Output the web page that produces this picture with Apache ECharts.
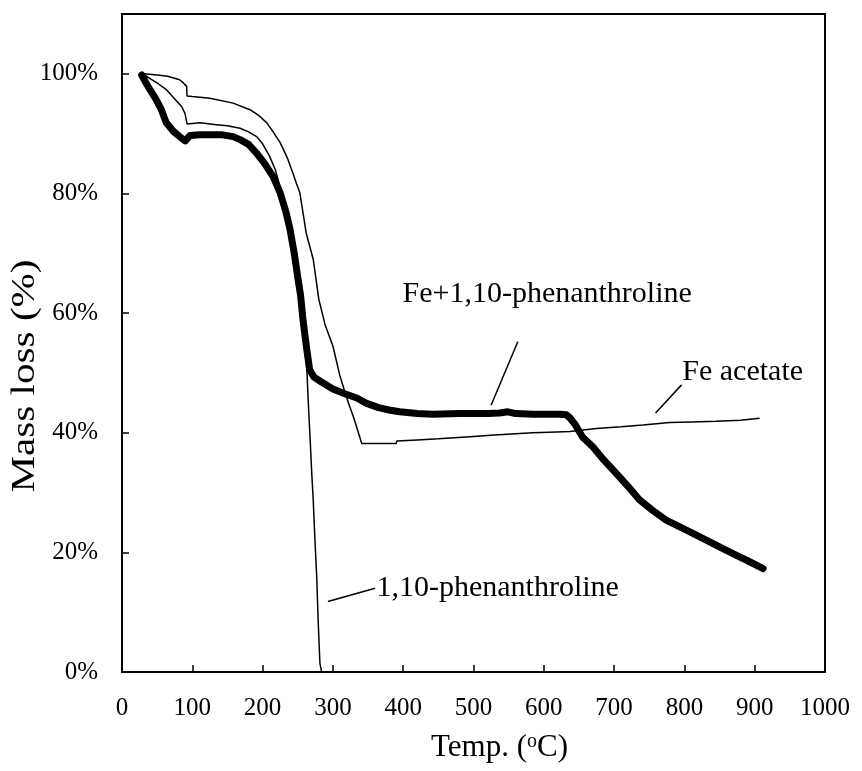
<!DOCTYPE html>
<html>
<head>
<meta charset="utf-8">
<script src="https://cdn.jsdelivr.net/npm/echarts@6/dist/echarts.min.js"></script>
<style>
  html, body { margin: 0; padding: 0; background: #fff; }
  #chart { width: 862px; height: 771px; }
</style>
</head>
<body>
<div id="chart"></div>
<script>
// Thermogravimetric curves: temperature (°C) vs remaining mass (%)
const xTicks = [0, 100, 200, 300, 400, 500, 600, 700, 800, 900, 1000];
const yTicks = [0, 20, 40, 60, 80, 100];

// Fe + 1,10-phenanthroline (thick curve)
const fephenT = [28, 34, 40, 48, 56, 63, 73, 85, 90, 97, 111, 125, 143, 158, 168, 180, 191, 203, 215, 225, 233, 239, 245, 250, 254, 257, 260, 263, 267, 273, 282, 300, 315, 334, 348, 365, 380, 395, 420, 442, 480, 520, 537, 549, 560, 585, 610, 623, 632, 637, 645, 655, 670, 685, 703, 720, 736, 755, 774, 800, 822, 845, 869, 890, 912];
const fephenV = [99.8, 98.5, 97.3, 95.8, 94, 91.8, 90.4, 89.2, 88.8, 89.7, 89.8, 89.8, 89.8, 89.5, 89, 88.2, 86.8, 85, 82.8, 80.1, 77, 74, 70, 66, 63, 59.4, 56.5, 53.8, 50.5, 49.3, 48.6, 47.3, 46.6, 45.8, 44.9, 44.2, 43.8, 43.5, 43.2, 43.1, 43.2, 43.2, 43.3, 43.5, 43.2, 43.1, 43.1, 43.1, 43.0, 42.5, 41.3, 39.3, 37.6, 35.5, 33.2, 31, 28.8, 27, 25.4, 23.9, 22.6, 21.2, 19.8, 18.6, 17.3];

// Fe acetate
const feacT = [31, 50, 65, 82, 88, 92, 92.5, 100, 125, 158, 182, 195, 206, 215, 225, 235, 243, 248, 253, 262, 272, 280, 289, 300, 310, 315, 322, 329, 335, 341, 360, 390, 391, 420, 450, 490, 530, 584, 608, 637, 675, 710, 741, 779, 810, 845, 880, 907];
const feacV = [100, 99.8, 99.6, 99, 98.4, 97.9, 96.3, 96.2, 95.9, 95.1, 94, 93, 91.8, 90.3, 88.5, 86, 83.4, 81.7, 80.1, 73.4, 69, 62.3, 58, 54.5, 49.5, 47.6, 45, 42.7, 40.5, 38.2, 38.2, 38.2, 38.6, 38.8, 39.0, 39.3, 39.6, 40, 40.1, 40.2, 40.7, 41.0, 41.3, 41.7, 41.8, 41.9, 42.1, 42.4];

// 1,10-phenanthroline
const phenT = [30, 40, 52, 63.5, 75, 85, 89.6, 92.6, 100, 111, 134.6, 150, 168, 180, 191.5, 200, 210, 218, 224.6, 232, 240, 246, 252, 257, 261, 263, 265, 268, 270, 272, 274, 277, 279, 281.5, 284];
const phenV = [100, 99.2, 98.3, 97.3, 95.8, 94.5, 93.4, 91.6, 91.7, 91.8, 91.5, 91.3, 90.9, 90.3, 89.5, 88.3, 86.2, 84, 81.2, 78, 74, 70, 64, 58, 53, 50.5, 45, 38, 33, 28.8, 23.2, 15.9, 8.7, 1.5, 0];

// Curve labels: text, temperature, mass; and their leader lines
const labelNames = ['Fe+1,10-phenanthroline', 'Fe acetate', '1,10-phenanthroline'];
const labelT = [399, 797, 362];
const labelV = [63.2, 50.2, 14.0];
const leaderFrom = [[563, 55.2], [796, 48.0], [360, 14.0]];
const leaderTo = [[525, 44.6], [759, 43.3], [293, 11.8]];

const serif = '"Liberation Serif", "Times New Roman", serif';
const zip = (a, b) => a.map((t, i) => [t, b[i]]);

const chart = echarts.init(document.getElementById('chart'), null, { renderer: 'canvas' });

chart.setOption({
  animation: false,
  backgroundColor: '#fff',
  grid: {
    left: 122, right: 37, top: 14, bottom: 99,
    outerBoundsMode: 'none', containLabel: false,
    show: true, borderColor: '#000', borderWidth: 2
  },
  xAxis: {
    type: 'value',
    min: xTicks[0], max: xTicks[xTicks.length - 1], interval: 100,
    name: '{t|Temp. (}{s|o}{t|C)}',
    nameLocation: 'middle', nameGap: 60,
    nameTextStyle: {
      padding: [0, 0, 0, 52],
      rich: {
        t: { fontFamily: serif, fontSize: 31, color: '#000' },
        s: { fontFamily: serif, fontSize: 20, color: '#000', verticalAlign: 'top', padding: [0, 0, 10, 0] }
      }
    },
    axisLine: { lineStyle: { color: '#000', width: 2 } },
    axisTick: { inside: true, length: 7, lineStyle: { color: '#000', width: 1.5 } },
    axisLabel: { fontFamily: serif, fontSize: 25, color: '#000', margin: 24, formatter: v => String(v) },
    splitLine: { show: false }
  },
  yAxis: {
    type: 'value',
    min: 0, max: 110, interval: 20,
    axisLine: { lineStyle: { color: '#000', width: 2 } },
    axisTick: { inside: true, length: 7, lineStyle: { color: '#000', width: 1.5 } },
    axisLabel: {
      fontFamily: serif, fontSize: 25, color: '#000', margin: 24,
      showMaxLabel: false,
      formatter: v => (yTicks.indexOf(v) >= 0 ? v + '%' : '')
    },
    splitLine: { show: false }
  },
  graphic: [{
    // vertical axis title, set slightly tall along its reading direction
    type: 'text',
    x: 25, y: 376,
    rotation: Math.PI / 2,
    scaleX: 1.21,
    style: {
      text: 'Mass loss (%)',
      font: '34px ' + serif,
      fill: '#000',
      align: 'center',
      verticalAlign: 'middle'
    }
  }],
  series: [
    {
      name: 'Fe acetate', type: 'line', data: zip(feacT, feacV),
      showSymbol: false, symbol: 'none', z: 2,
      lineStyle: { color: '#000', width: 1.5 }
    },
    {
      name: '1,10-phenanthroline', type: 'line', data: zip(phenT, phenV),
      showSymbol: false, symbol: 'none', z: 2,
      lineStyle: { color: '#000', width: 1.5 }
    },
    {
      name: 'Fe+1,10-phenanthroline', type: 'line', data: zip(fephenT, fephenV),
      showSymbol: false, symbol: 'none', z: 3,
      lineStyle: { color: '#000', width: 7, cap: 'round', join: 'round' }
    },
    {
      name: 'labels', type: 'scatter', z: 4,
      symbolSize: 0,
      itemStyle: { color: '#000', opacity: 1 },
      data: labelNames.map((n, i) => ({ name: n, value: [labelT[i], labelV[i]] })),
      label: {
        show: true, position: 'right', distance: 0,
        formatter: p => p.name,
        fontFamily: serif, fontSize: 30, color: '#000', opacity: 1,
        textBorderWidth: 0
      },
      markLine: {
        silent: true, symbol: ['none', 'none'],
        label: { show: false },
        lineStyle: { color: '#000', width: 1.5, type: 'solid' },
        data: leaderFrom.map((f, i) => [{ coord: f }, { coord: leaderTo[i] }])
      }
    }
  ]
});
</script>
</body>
</html>
